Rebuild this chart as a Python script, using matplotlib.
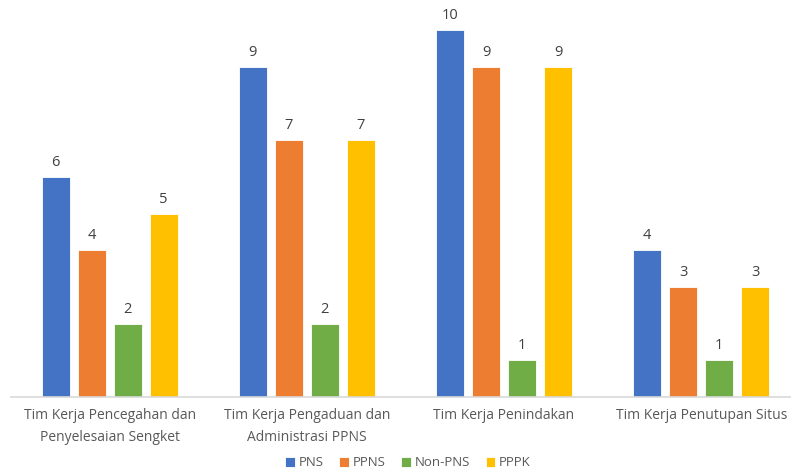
import matplotlib

matplotlib.use("Agg")
import matplotlib.pyplot as plt
import numpy as np

categories = [
    "Tim Kerja Pencegahan dan\nPenyelesaian Sengket",
    "Tim Kerja Pengaduan dan\nAdministrasi PPNS",
    "Tim Kerja Penindakan",
    "Tim Kerja Penutupan Situs",
]
series_names = ["PNS", "PPNS", "Non-PNS", "PPPK"]
pns = [6, 9, 10, 4]
ppns = [4, 7, 9, 3]
non_pns = [2, 2, 1, 1]
pppk = [5, 7, 9, 3]

colors = ["#4472C4", "#ED7D31", "#70AD47", "#FFC000"]
text_color = "#595959"

plt.rcParams["font.family"] = ["Open Sans", "DejaVu Sans"]

W, H = 791, 475
fig = plt.figure(figsize=(W / 100, H / 100), dpi=100)
ax = fig.add_axes([11 / W, 78 / H, 780 / W, 392 / H])

x = np.arange(len(categories))
step = 0.1826
width = 0.142
for i, (name, vals) in enumerate(zip(series_names, [pns, ppns, non_pns, pppk])):
    offs = (i - 1.5) * step
    bars = ax.bar(x + offs, vals, width, color=colors[i], label=name,
                  edgecolor="white", linewidth=0.6)
    ax.bar_label(bars, padding=5, fontsize=10.5, color="#404040")

ax.set_xlim(-0.5, -0.5 + 780 / 197.2)
ax.set_ylim(0, 392 / 36.7)
ax.set_yticks([])
ax.set_xticks(x)
ax.set_xticklabels(categories, fontsize=10, color=text_color, linespacing=1.6)
ax.tick_params(axis="x", length=0, pad=8)
for s in ["top", "right", "left"]:
    ax.spines[s].set_visible(False)
ax.spines["bottom"].set_color("#D9D9D9")
ax.spines["bottom"].set_linewidth(1.2)

fig.legend(loc="center", bbox_to_anchor=(408 / W, 1 - 463 / H), ncol=4,
           frameon=False, fontsize=9.5, handlelength=0.7, handleheight=0.7,
           handletextpad=0.3, columnspacing=1.2, labelcolor=text_color)

fig.savefig("out.png", dpi=100)
plt.close(fig)
